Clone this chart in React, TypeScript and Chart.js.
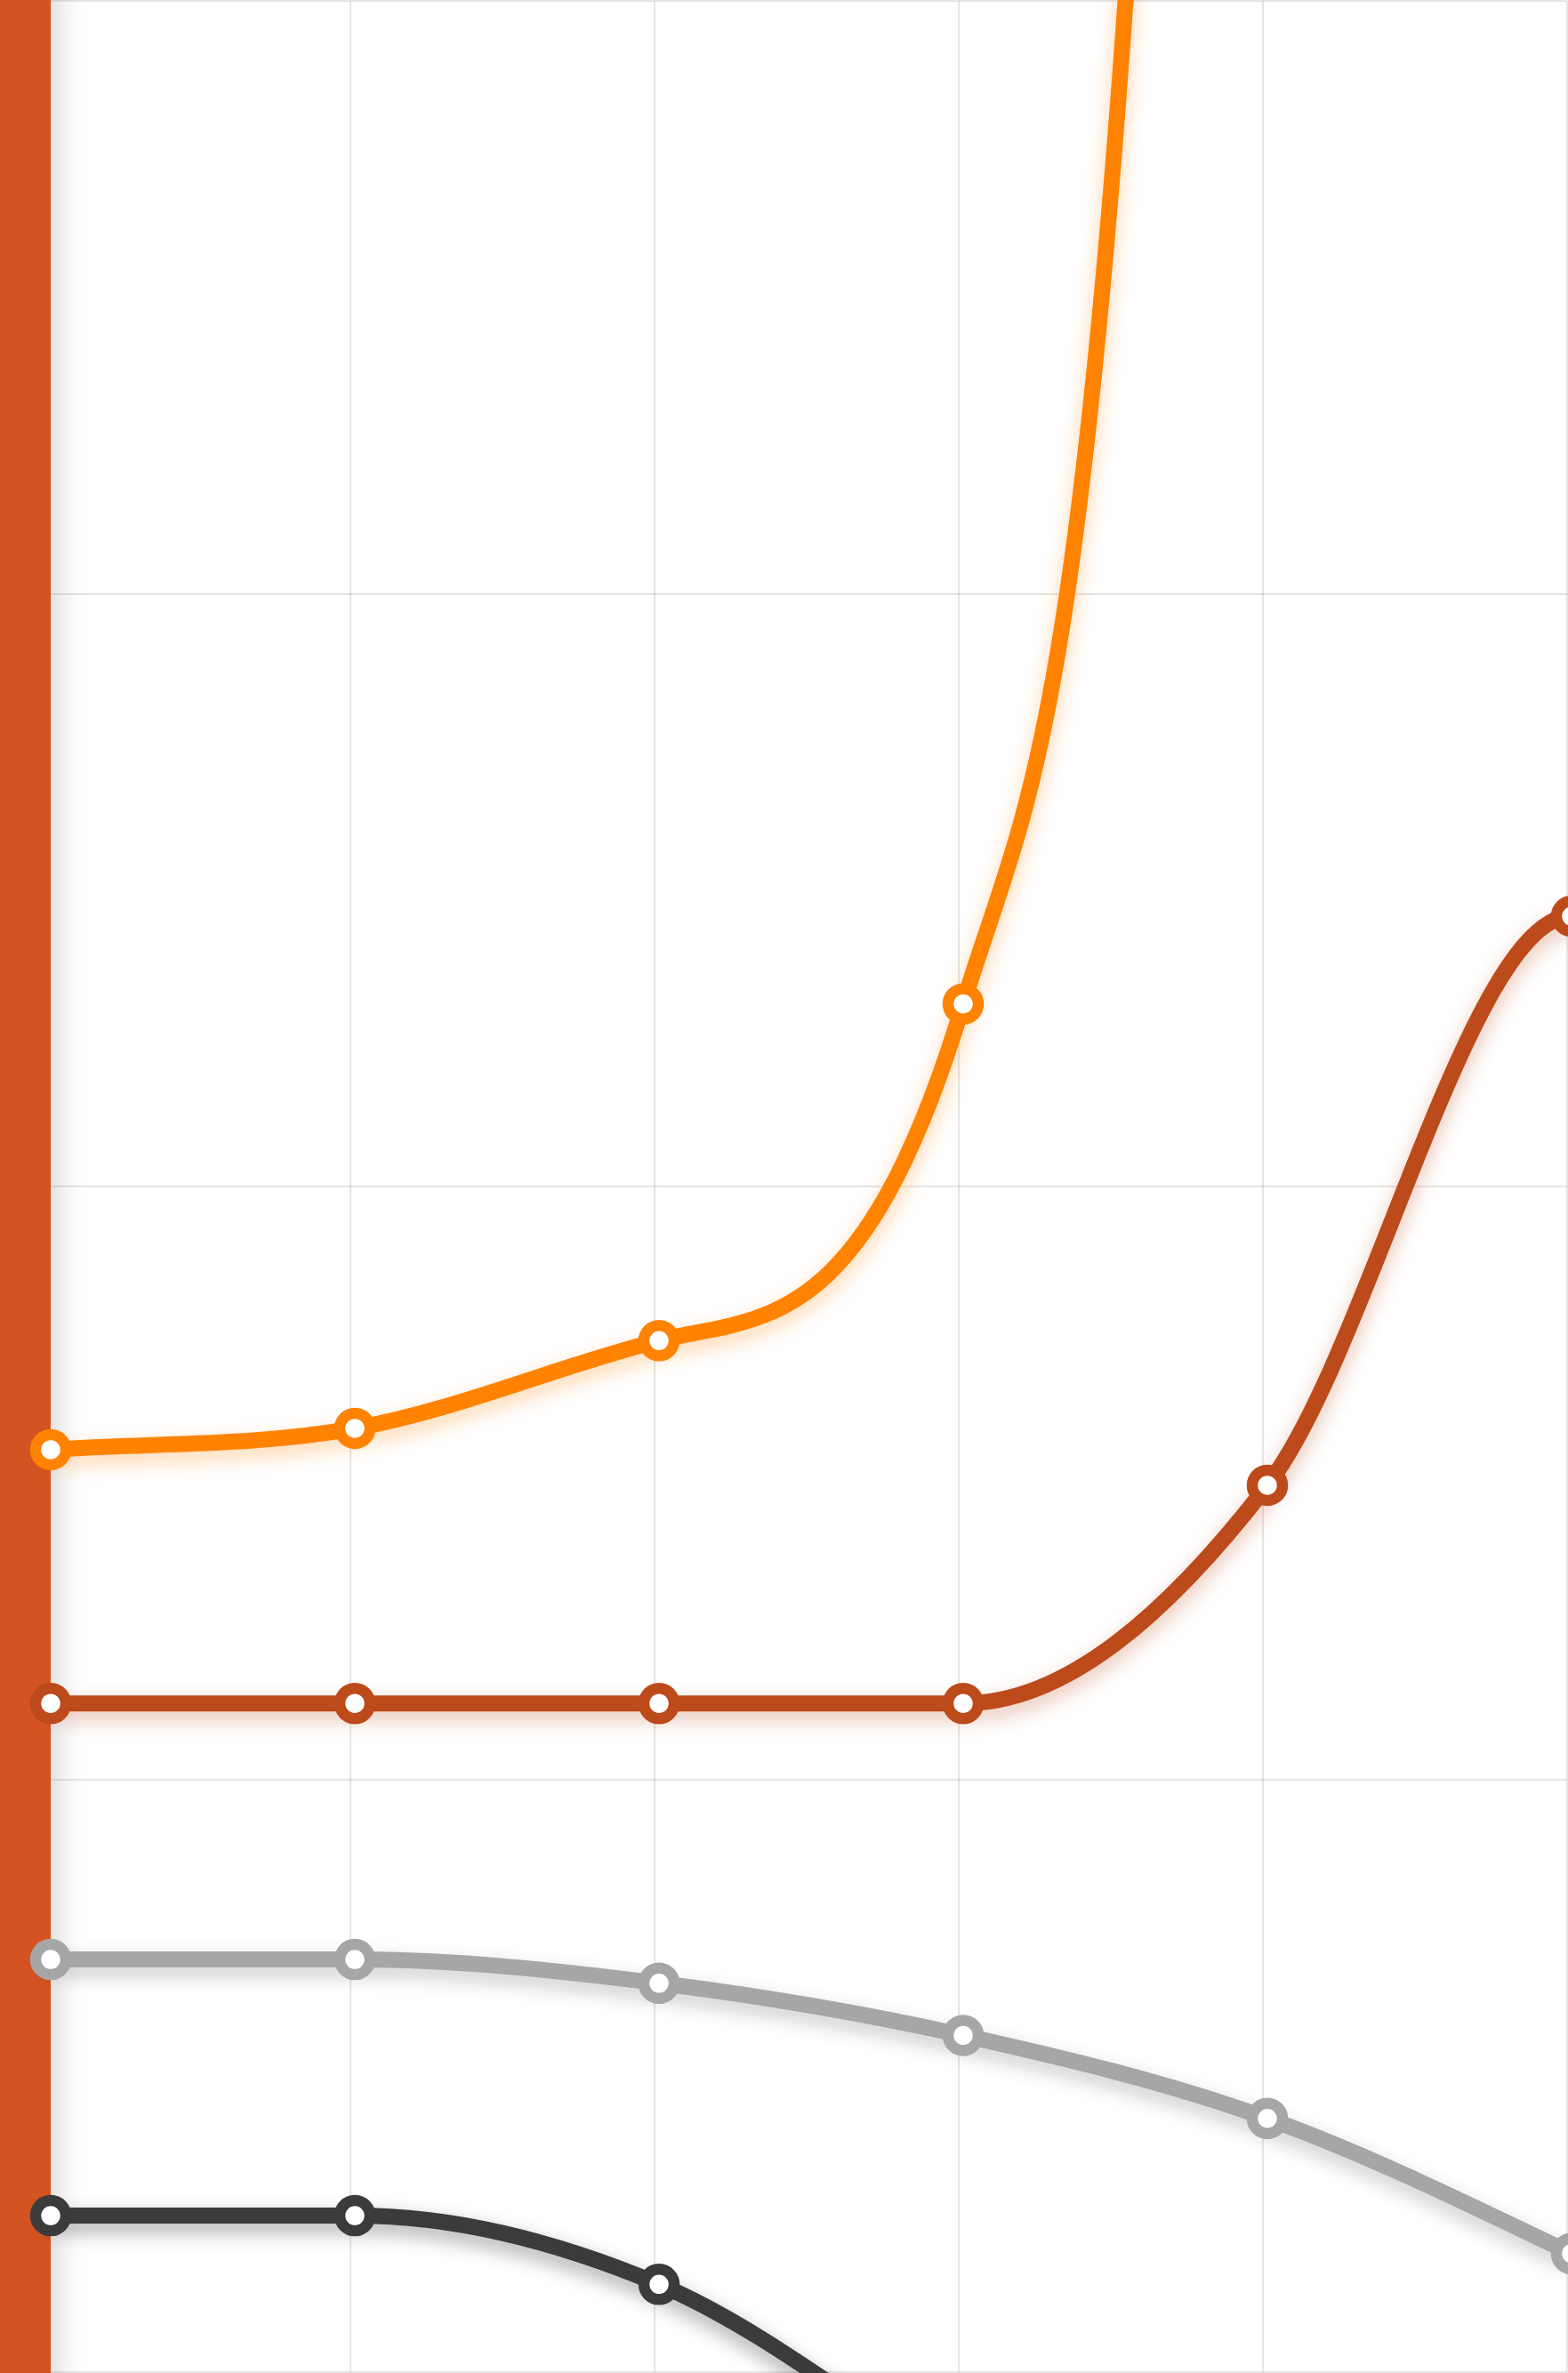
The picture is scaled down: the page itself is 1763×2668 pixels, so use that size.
import React, { useEffect, useRef } from 'react';
import { Chart, registerables } from 'chart.js';

Chart.register(...registerables);

// Category positions (tick labels are not shown in the reference)
const categories = ['1', '2', '3', '4', '5', '6', '7'];

// Series values (y axis 0..100, grid every 25); later points run off the visible area
const orangeValues = [38.9, 39.8, 43.5, 57.7, 279, 2000, 6000];
const rustValues = [28.2, 28.2, 28.2, 28.2, 37.4, 61.4, 55];
const grayValues = [17.4, 17.4, 16.4, 14.2, 10.7, 5.0, -1.5];
const darkValues = [6.6, 6.6, 3.7, -4.2, -12, -20, -28];

const yMin = 0;
const yMax = 100;
const yStep = 25;
const lastVisibleIndex = 5;

const seriesColors = ['#ff8200', '#bc4a1a', '#a6a6a6', '#3b3b3b'];
const shadowColors = [
  'rgba(255,130,0,0.35)',
  'rgba(188,74,26,0.35)',
  'rgba(0,0,0,0.22)',
  'rgba(0,0,0,0.35)',
];
const barColor = '#d35422';

const decorPlugin = {
  id: 'decor',
  beforeDatasetsDraw(chart: any) {
    const ctx = chart.ctx;
    ctx.save();
    ctx.shadowColor = 'rgba(0,0,0,0.18)';
    ctx.shadowBlur = 36;
    ctx.shadowOffsetX = 6;
    ctx.fillStyle = barColor;
    ctx.fillRect(-20, -20, 77, chart.height + 40);
    ctx.restore();
    ctx.save();
    ctx.translate(5, 0);
  },
  afterDatasetsDraw(chart: any) {
    chart.ctx.restore();
  },
  beforeDatasetDraw(chart: any, args: any) {
    const ctx = chart.ctx;
    ctx.save();
    const ds = chart.data.datasets[args.index] as any;
    if (ds.showLine !== false) {
      ctx.shadowColor = shadowColors[ds.seriesIndex];
      ctx.shadowBlur = 22;
      ctx.shadowOffsetY = 9;
    }
  },
  afterDatasetDraw(chart: any) {
    chart.ctx.restore();
  },
};

function lineDataset(data: number[], i: number) {
  return {
    data,
    seriesIndex: i,
    order: 1,
    borderColor: seriesColors[i],
    backgroundColor: seriesColors[i],
    borderWidth: 18,
    pointRadius: 0,
    pointHoverRadius: 0,
    cubicInterpolationMode: 'monotone' as const,
    fill: false,
    clip: false as const,
  };
}

function pointDataset(data: number[], i: number) {
  return {
    data,
    seriesIndex: i,
    order: 0,
    showLine: false,
    borderColor: seriesColors[i],
    backgroundColor: '#ffffff',
    pointRadius: 17,
    pointHoverRadius: 17,
    pointBorderWidth: 12.5,
    pointBackgroundColor: '#ffffff',
    pointBorderColor: seriesColors[i],
    clip: false as const,
  };
}

export default function App() {
  const ref = useRef<HTMLCanvasElement>(null);
  useEffect(() => {
    document.body.style.margin = '0';
    const series = [orangeValues, rustValues, grayValues, darkValues];
    const chart = new Chart(ref.current!, {
      type: 'line',
      data: {
        labels: categories,
        datasets: [
          ...series.map((d, i) => lineDataset(d, i)),
          ...series.map((d, i) => pointDataset(d, i)),
        ] as any,
      },
      options: {
        responsive: false,
        devicePixelRatio: 1,
        animation: false,
        layout: { autoPadding: false, padding: { left: 52, right: 1, top: 1, bottom: 1 } },
        plugins: { legend: { display: false }, tooltip: { enabled: false } },
        events: [],
        scales: {
          x: {
            type: 'category',
            max: lastVisibleIndex,
            offset: false,
            ticks: { display: false },
            grid: { color: 'rgba(0,0,0,0.1)', lineWidth: 2, drawTicks: false },
            border: { display: false },
          },
          y: {
            min: yMin,
            max: yMax,
            ticks: { display: false, stepSize: yStep },
            grid: { color: 'rgba(0,0,0,0.1)', lineWidth: 2, drawTicks: false },
            border: { display: false },
          },
        },
      },
      plugins: [decorPlugin],
    });
    return () => chart.destroy();
  }, []);
  return (
    <div style={{ width: 1763, height: 2668 }}>
      <canvas ref={ref} width={1763} height={2668} style={{ display: 'block' }} />
    </div>
  );
}
